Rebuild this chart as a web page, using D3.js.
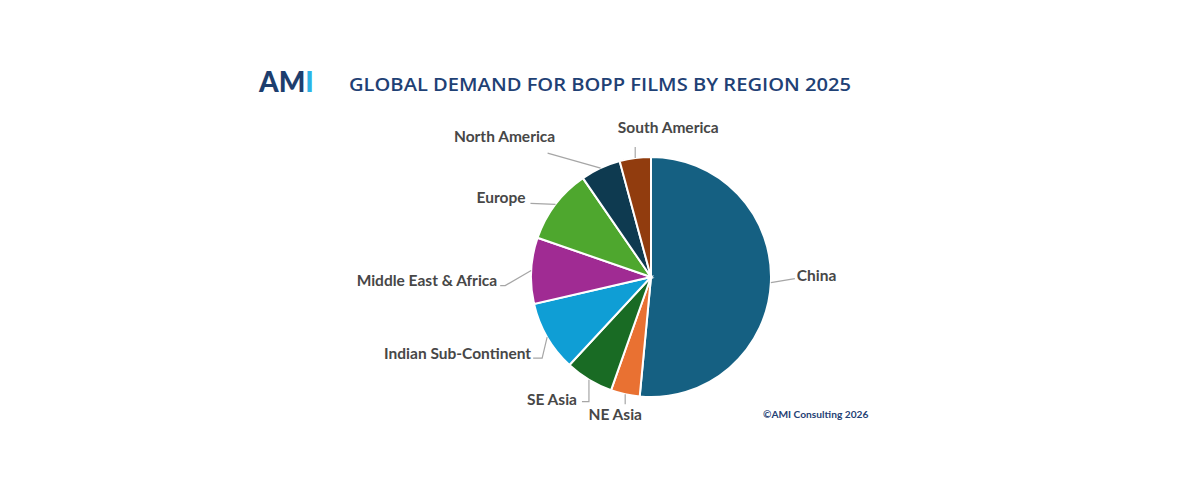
<!DOCTYPE html>
<html>
<head>
<meta charset="utf-8">
<script src="https://cdn.jsdelivr.net/npm/d3@7"></script>
<style>
  body { margin: 0; background: #fff; }
  svg { display: block; font-family: Lato, 'Open Sans', sans-serif; }
</style>
</head>
<body>
<svg id="canvas"></svg>
<script>
// data (share of demand, %), clockwise from 12 o'clock
let regions = ['China', 'NE Asia', 'SE Asia', 'Indian Sub-Continent', 'Middle East & Africa', 'Europe', 'North America', 'South America'];
let shares = [51.5, 3.9, 6.5, 9.5, 8.9, 10.1, 5.4, 4.2];
let colors = ['#156082', '#e97132', '#196b24', '#0f9ed5', '#a02b93', '#4ea72e', '#0e3a50', '#913c0e'];

// leader line bends and label spots, relative to the point on the rim
let leaderBends = [
  [[24, -4]],
  [[0, 10]],
  [[0, 22], [-7, 22]],
  [[-5, 21], [-14, 21]],
  [[-26, 15], [-31, 15]],
  [[-25, -1]],
  [[-53, -15]],
  [[0, -11]]
];
let labelSpots = [
  [26, -2, 'start'],
  [-10, 26, 'middle'],
  [-12, 25, 'end'],
  [-16, 22, 'end'],
  [-34, 15, 'end'],
  [-30, -1, 'end'],
  [-96, -26, 'middle'],
  [33, -25, 'middle']
];

let width = 1200;
let height = 500;
let cx = 651;
let cy = 277;
let radius = 120;

let canvas = d3.select('#canvas');
canvas.attr('width', width).attr('height', height);

let pie = d3.pie().sort(null).value(d => d.share);
let arc = d3.arc().innerRadius(0).outerRadius(radius);
let rimArc = d3.arc().innerRadius(radius).outerRadius(radius);

let data = regions.map((r, i) => ({ region: r, share: shares[i], color: colors[i] }));
let arcs = pie(data);

let drawHeader = () => {
  let logo = canvas.append('text')
    .attr('x', 259)
    .attr('y', 92)
    .attr('font-size', 28)
    .attr('font-weight', 900)
    .attr('font-family', 'Lato, sans-serif');
  logo.append('tspan').attr('fill', '#1d3e6e').text('AM');
  logo.append('tspan').attr('fill', '#2bb3e6').text('I');

  canvas.append('text')
    .attr('x', 349)
    .attr('y', 91)
    .attr('font-size', 17.5)
    .attr('font-weight', 600)
    .attr('font-family', "'Open Sans', sans-serif")
    .attr('fill', '#1f4175')
    .attr('textLength', 502)
    .attr('lengthAdjust', 'spacingAndGlyphs')
    .text('GLOBAL DEMAND FOR BOPP FILMS BY REGION 2025');
};

let drawPie = () => {
  let g = canvas.append('g').attr('transform', `translate(${cx}, ${cy})`);

  g.selectAll('path.slice')
    .data(arcs)
    .enter()
    .append('path')
    .attr('class', 'slice')
    .attr('d', arc)
    .attr('fill', d => d.data.color)
    .attr('stroke', '#fff')
    .attr('stroke-width', 2);

  // leader lines
  g.selectAll('polyline.leader')
    .data(arcs)
    .enter()
    .append('polyline')
    .attr('class', 'leader')
    .attr('points', (d, i) => {
      let p = rimArc.centroid(d);
      let pts = [p].concat(leaderBends[i].map(b => [p[0] + b[0], p[1] + b[1]]));
      return pts.map(q => q.join(',')).join(' ');
    })
    .attr('fill', 'none')
    .attr('stroke', '#a6a6a6')
    .attr('stroke-width', 1.2);

  g.selectAll('text.label')
    .data(arcs)
    .enter()
    .append('text')
    .attr('class', 'label')
    .attr('x', (d, i) => rimArc.centroid(d)[0] + labelSpots[i][0])
    .attr('y', (d, i) => rimArc.centroid(d)[1] + labelSpots[i][1])
    .attr('text-anchor', (d, i) => labelSpots[i][2])
    .attr('font-size', 15.5)
    .attr('font-weight', 700)
    .attr('fill', '#474747')
    .text(d => d.data.region);
};

let drawFooter = () => {
  canvas.append('text')
    .attr('x', 763)
    .attr('y', 418)
    .attr('font-size', 10.2)
    .attr('font-weight', 700)
    .attr('fill', '#1f4175')
    .text('\u00A9AMI Consulting 2026');
};

drawHeader();
drawPie();
drawFooter();
</script>
</body>
</html>
